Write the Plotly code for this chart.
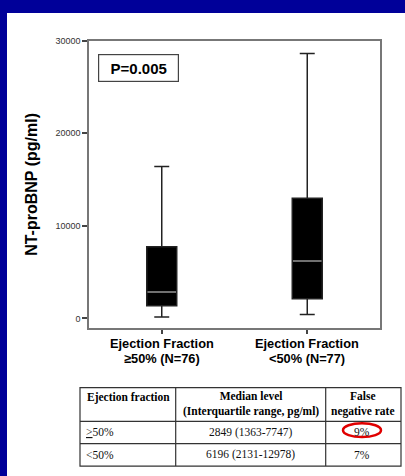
import plotly.graph_objects as go

# ---- data ----
cat_line1 = ["Ejection Fraction", "Ejection Fraction"]
cat_line2 = ["≥50% (N=76)", "<50% (N=77)"]
cat_pos = [0, 1]
q1_vals = [1363, 2131]
median_vals = [2849, 6196]
q3_vals = [7747, 12978]
lower_whisker = [150, 430]
upper_whisker = [16400, 28600]
y_ticks = [0, 10000, 20000, 30000]
y_ticktext = ["0", "10000", "20000", "30000"]
p_text = "P=0.005"

table_header = ["Ejection fraction",
                "Median level<br>(Interquartile range, pg/ml)",
                "False<br>negative rate"]
table_col_ef = ["<u>&gt;</u>50%", "&lt;50%"]
table_col_median = ["2849 (1363-7747)", "6196 (2131-12978)"]
table_col_fnr = ["9%", "7%"]

W, H = 405, 476
BOX_W = 0.206

fig = go.Figure()

for i in range(len(cat_pos)):
    fig.add_trace(go.Box(
        x=[cat_pos[i]],
        q1=[q1_vals[i]], median=[median_vals[i]], q3=[q3_vals[i]],
        lowerfence=[lower_whisker[i]], upperfence=[upper_whisker[i]],
        width=BOX_W, whiskerwidth=0.5,
        fillcolor="black", line=dict(color="#222222", width=1.5),
        boxpoints=False, showlegend=False, hoverinfo="skip",
    ))

# grey median lines
mx, my = [], []
for i in range(len(cat_pos)):
    mx += [cat_pos[i] - BOX_W / 2 + 0.005, cat_pos[i] + BOX_W / 2 - 0.005, None]
    my += [median_vals[i], median_vals[i], None]
fig.add_trace(go.Scatter(x=mx, y=my, mode="lines",
                         line=dict(color="#c8c8c8", width=1.2),
                         showlegend=False, hoverinfo="skip"))


def px(x):
    return x / W


def py(y):
    return 1 - y / H


shapes = [
    dict(type="rect", xref="paper", yref="paper", x0=px(7), x1=1, y0=0, y1=py(8),
         fillcolor="white", line=dict(width=0), layer="below"),
]
annotations = [
    dict(text="<b>" + p_text + "</b>", xref="paper", yref="paper",
         x=px(138.7), y=py(63.4), xanchor="center", yanchor="middle",
         showarrow=False, font=dict(size=15, color="black"),
         bordercolor="#444444", borderwidth=1.2, borderpad=3,
         width=73, height=20, bgcolor="white"),
]

# category labels (two lines, tight spacing as in the reference)
for i in range(len(cat_pos)):
    annotations.append(dict(text="<b>" + cat_line1[i] + "</b>", xref="x", yref="paper",
                            x=cat_pos[i], y=py(342.5), xanchor="center", yanchor="middle",
                            showarrow=False, font=dict(size=12.8, color="black")))
    annotations.append(dict(text="<b>" + cat_line2[i] + "</b>", xref="x", yref="paper",
                            x=cat_pos[i], y=py(357.5), xanchor="center", yanchor="middle",
                            showarrow=False, font=dict(size=12.8, color="black")))

# ---- table ----
tx0, tx1 = 80, 401
col_x = [80, 175.7, 325.7, 401]
row_y = [386.7, 420.7, 443.3, 466]
tcol = "#333333"
shapes.append(dict(type="rect", xref="paper", yref="paper",
                   x0=px(tx0), x1=px(tx1), y0=py(row_y[-1]), y1=py(row_y[0]),
                   line=dict(color=tcol, width=1.2), fillcolor="white", layer="below"))
for cx in col_x[1:-1]:
    shapes.append(dict(type="line", xref="paper", yref="paper",
                       x0=px(cx), x1=px(cx), y0=py(row_y[-1]), y1=py(row_y[0]),
                       line=dict(color=tcol, width=1.2)))
for ry in row_y[1:-1]:
    shapes.append(dict(type="line", xref="paper", yref="paper",
                       x0=px(tx0), x1=px(tx1), y0=py(ry), y1=py(ry),
                       line=dict(color=tcol, width=1.2)))

serif = "Liberation Serif, Times New Roman, serif"
# header
annotations.append(dict(text="<b>" + table_header[0] + "</b>", xref="paper", yref="paper",
                        x=px(85), y=py(396.7), xanchor="left", yanchor="middle",
                        showarrow=False, font=dict(family=serif, size=11.5, color="black")))
for j in (1, 2):
    annotations.append(dict(text="<b>" + table_header[j] + "</b>", xref="paper", yref="paper",
                            x=px((col_x[j] + col_x[j + 1]) / 2), y=py(403.7),
                            xanchor="center", yanchor="middle",
                            showarrow=False, font=dict(family=serif, size=11.5, color="black")))
# body
for r in range(len(table_col_ef)):
    yc = py((row_y[r + 1] + row_y[r + 2]) / 2)
    annotations.append(dict(text=table_col_ef[r], xref="paper", yref="paper",
                            x=px(84), y=yc, xanchor="left", yanchor="middle", showarrow=False,
                            font=dict(family=serif, size=11.5, color="#111111")))
    annotations.append(dict(text=table_col_median[r], xref="paper", yref="paper",
                            x=px((col_x[1] + col_x[2]) / 2), y=yc, xanchor="center",
                            yanchor="middle", showarrow=False,
                            font=dict(family=serif, size=11.5, color="#111111")))
    annotations.append(dict(text=table_col_fnr[r], xref="paper", yref="paper",
                            x=px((col_x[2] + col_x[3]) / 2 - 1.5), y=yc, xanchor="center",
                            yanchor="middle", showarrow=False,
                            font=dict(family=serif, size=11.5, color="#111111")))

# red highlight ellipse around the 9% cell value
shapes.append(dict(type="circle", xref="paper", yref="paper",
                   x0=px(343), x1=px(381), y0=py(436.7), y1=py(422.7),
                   line=dict(color="#e00000", width=2.5), layer="above"))

fig.update_layout(
    width=W, height=H,
    margin=dict(l=0, r=0, t=0, b=0),
    paper_bgcolor="#000099",
    plot_bgcolor="white",
    font=dict(family="Arial, Liberation Sans, sans-serif", color="black"),
    xaxis=dict(domain=[px(89), px(380)], range=[-0.5, 1.5],
               tickvals=cat_pos, ticktext=["" for _ in cat_pos],
               ticks="outside", ticklen=4, tickcolor="#444", tickwidth=1.5,
               showline=True, linecolor="#777777", linewidth=1.5, mirror=True,
               showgrid=False, zeroline=False),
    yaxis=dict(domain=[py(326.7), py(36)], range=[-1069, 30000],
               tickvals=y_ticks, ticktext=y_ticktext,
               ticks="outside", ticklen=5, tickcolor="#444", tickwidth=1.5,
               tickfont=dict(size=9, color="#333333"),
               showline=True, linecolor="#777777", linewidth=1.5, mirror=True,
               showgrid=False, zeroline=False,
               title=dict(text="<b>NT-proBNP (pg/ml)</b>", font=dict(size=16, color="black"),
                          standoff=14)),
    shapes=shapes,
    annotations=annotations,
)

fig.write_html("out.html")
